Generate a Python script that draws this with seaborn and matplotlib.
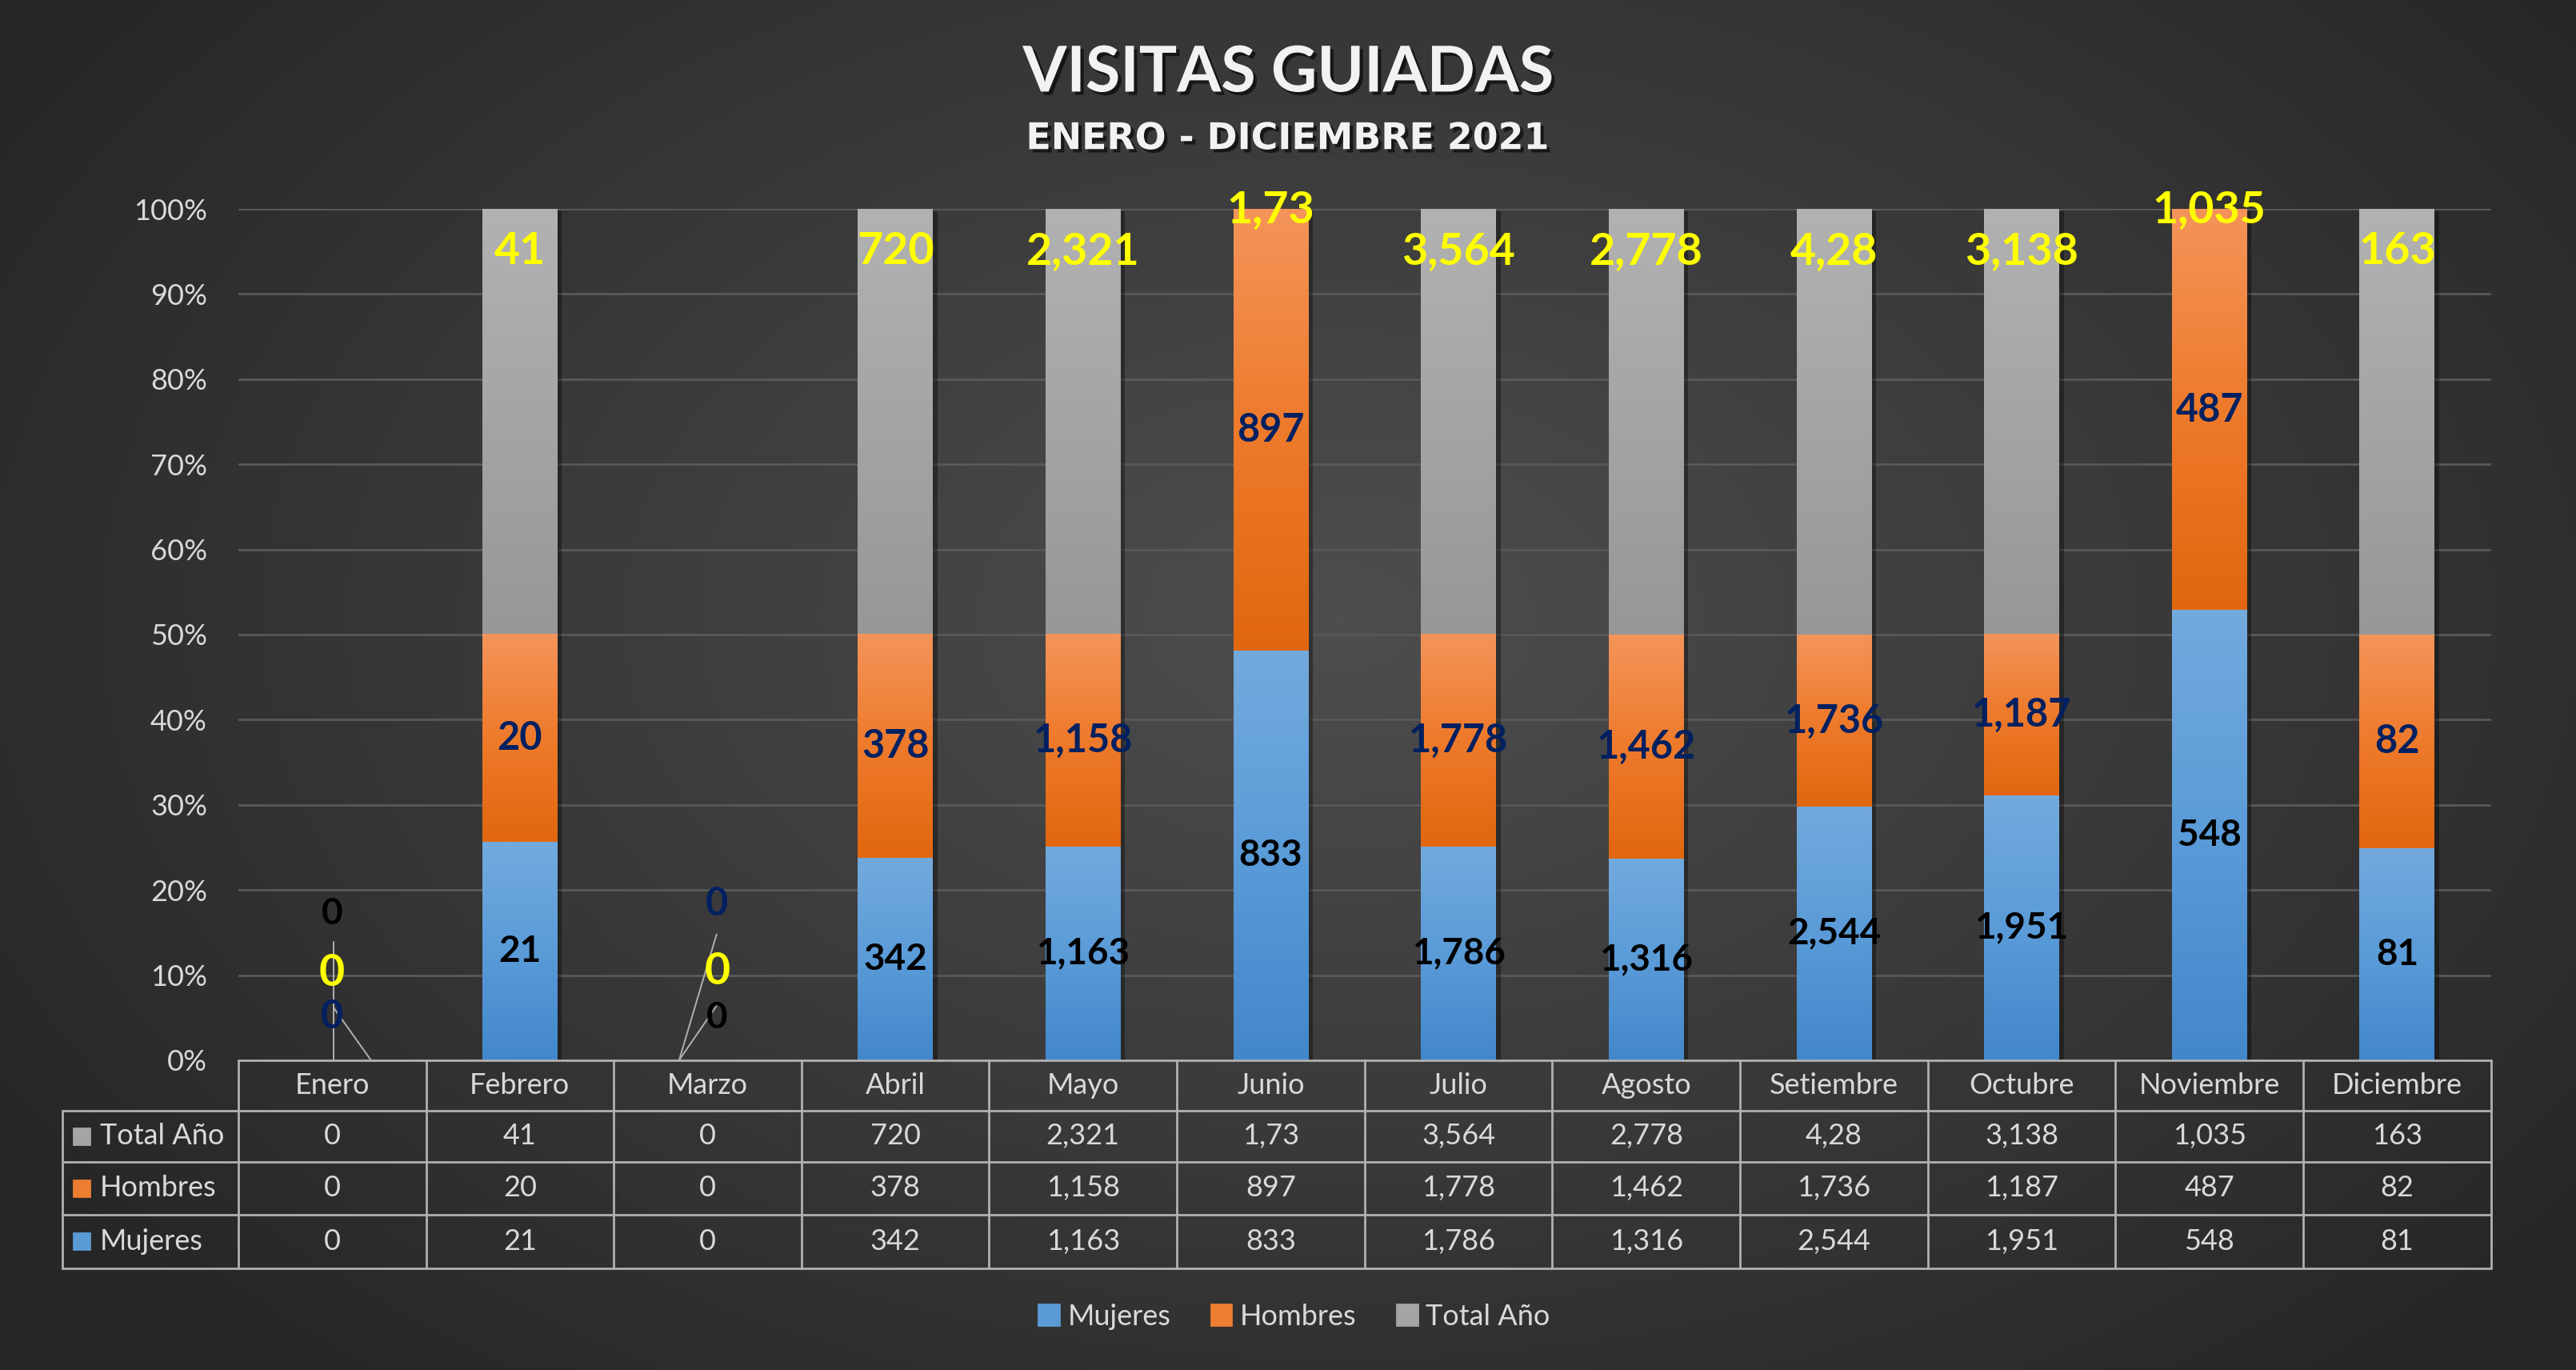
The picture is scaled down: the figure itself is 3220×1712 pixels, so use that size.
import numpy as np
import pandas as pd
import matplotlib
matplotlib.use("Agg")
import matplotlib.pyplot as plt
import matplotlib.patheffects as pe
from matplotlib.patches import Patch, Rectangle
from matplotlib.colors import LinearSegmentedColormap
from matplotlib.transforms import blended_transform_factory
import seaborn as sns

# datos
meses = ["Enero", "Febrero", "Marzo", "Abril", "Mayo", "Junio", "Julio",
         "Agosto", "Setiembre", "Octubre", "Noviembre", "Diciembre"]
mujeres = [0, 21, 0, 342, 1163, 833, 1786, 1316, 2544, 1951, 548, 81]
hombres = [0, 20, 0, 378, 1158, 897, 1778, 1462, 1736, 1187, 487, 82]
total_anio = [0, 41, 0, 720, 2321, 1.73, 3564, 2778, 4280, 3138, 1.035, 163]
total_texto = ["0", "41", "0", "720", "2,321", "1,73", "3,564", "2,778",
               "4,28", "3,138", "1,035", "163"]

azul = "#5b9bd5"
naranja = "#ed7d31"
gris = "#a5a5a5"
txt = "#d9d9d9"
linea = "#b0b0b0"

sns.set_theme(style="dark")
plt.rcParams['font.family'] = ['Lato', 'DejaVu Sans']

df = pd.DataFrame({"Mes": meses, "Mujeres": mujeres, "Hombres": hombres,
                   "Total Año": total_anio})
suma = df[["Mujeres", "Hombres", "Total Año"]].sum(axis=1).replace(0, np.nan)
p_muj = (df["Mujeres"] / suma).fillna(0)
p_hom = ((df["Mujeres"] + df["Hombres"]) / suma).fillna(0)
p_tot = ((df["Mujeres"] + df["Hombres"] + df["Total Año"]) / suma).fillna(0)

fig = plt.figure(figsize=(16.1, 8.56), dpi=200)

# fondo con degradado radial
bg = fig.add_axes([0, 0, 1, 1], zorder=-10)
yy, xx = np.mgrid[0:1:400j, 0:1:700j]
d = np.sqrt(((xx - 0.52) / 0.62) ** 2 + ((yy - 0.45) / 0.75) ** 2)
d = np.clip(d, 0, 1)
fondo = LinearSegmentedColormap.from_list("fondo", ["#4e4e4e", "#262626"])
bg.imshow(d, cmap=fondo, aspect="auto", extent=[0, 1, 0, 1], vmin=0, vmax=1)
bg.set_axis_off()

ax = fig.add_axes([0.0925, 0.2261, 0.8745, 0.6214])
ax.set_facecolor("none")

bkw = dict(width=0.4, saturation=1, edgecolor="none", linewidth=0, ax=ax)
sns.barplot(x=df["Mes"], y=p_tot, color=gris, **bkw)
sns.barplot(x=df["Mes"], y=p_hom, color=naranja, **bkw)
sns.barplot(x=df["Mes"], y=p_muj, color=azul, **bkw)

# degradados por segmento
grads = [
    (LinearSegmentedColormap.from_list("g", ["#b2b2b2", "#979797"]), p_hom),
    (LinearSegmentedColormap.from_list("o", ["#f4945a", "#ee7a2b", "#e0670f"]), p_muj),
    (LinearSegmentedColormap.from_list("b", ["#73aade", "#5a9bd8", "#4387cb"]), np.zeros(12)),
]
n = len(meses)
g = np.linspace(0, 1, 256).reshape(-1, 1)
for k, (cm, inferior) in enumerate(grads):
    for i, p in enumerate(ax.patches[k * n:(k + 1) * n]):
        if k == 0:
            p.set_path_effects([pe.SimplePatchShadow(offset=(2, -1), shadow_rgbFace="black", alpha=0.35),
                                pe.Normal()])
        alto = p.get_height()
        bajo = inferior[i]
        if alto - bajo <= 0:
            continue
        ax.imshow(g, cmap=cm, aspect="auto", zorder=2.5,
                  extent=[p.get_x(), p.get_x() + p.get_width(), bajo, alto])

ax.set_xlim(-0.5, n - 0.5)
ax.set_ylim(0, 1)
ax.set_xlabel("")
ax.set_ylabel("")
ax.tick_params(axis="x", labelbottom=False, length=0)
ax.set_yticks(np.arange(0, 1.01, 0.1))
ax.set_yticklabels([f"{int(round(t * 100))}%" for t in np.arange(0, 1.01, 0.1)])
ax.tick_params(axis="y", length=0, pad=14, labelsize=13, labelcolor=txt)
ax.yaxis.grid(True, color="#595959", lw=1.0)
ax.xaxis.grid(False)
ax.set_axisbelow(True)
for s in ax.spines.values():
    s.set_visible(False)

# etiquetas de datos
kw = dict(ha="center", va="center", weight="bold", zorder=5)
for i in range(n):
    if np.isnan(suma[i]):
        continue
    ax.text(i, p_muj[i] / 2, f"{mujeres[i]:,}", color="black", fontsize=16.5, **kw)
    ax.text(i, (p_muj[i] + p_hom[i]) / 2, f"{hombres[i]:,}", color="#002060", fontsize=17.5, **kw)
    y_t = max((p_hom[i] + p_tot[i]) / 2, p_tot[i] - 0.05)
    ax.text(i, y_t, total_texto[i], color="#ffff00", fontsize=20, **kw)

# meses sin visitas: etiquetas separadas con lineas guia
ceros = {0: (0.172, 0.051, 0.102), 2: (0.05, 0.184, 0.104)}
for i, (ym, yh, yt) in ceros.items():
    xc = i + (0.05 if i == 2 else 0.0)
    ax.text(xc, ym, f"{mujeres[i]:,}", color="black", fontsize=16.5, **kw)
    ax.text(xc, yh, f"{hombres[i]:,}", color="#002060", fontsize=17.5, **kw)
    ax.text(xc, yt, total_texto[i], color="#ffff00", fontsize=20, **kw)
ax.plot([0.007, 0.007], [0.139, 0.0], color=linea, lw=0.7, zorder=4)
ax.plot([0.007, 0.207], [0.062, 0.0], color=linea, lw=0.7, zorder=4)
ax.plot([2.048, 1.848], [0.148, 0.0], color=linea, lw=0.7, zorder=4)
ax.plot([2.048, 1.848], [0.064, 0.0], color=linea, lw=0.7, zorder=4)

# tabla de datos
tr = blended_transform_factory(ax.transData, ax.transAxes)
bordes = [0, -0.0592, -0.1194, -0.1814, -0.2444]
x_izq = -1.437
lkw = dict(color=linea, lw=1.0, transform=tr, clip_on=False, zorder=6)
ax.plot([-0.5, n - 0.5], [0, 0], **lkw)
for yb in bordes[1:]:
    ax.plot([x_izq, n - 0.5], [yb, yb], **lkw)
for j in range(n + 1):
    ax.plot([j - 0.5, j - 0.5], [0, bordes[-1]], **lkw)
ax.plot([x_izq, x_izq], [bordes[1], bordes[-1]], **lkw)

tkw = dict(ha="center", va="center", fontsize=13, color=txt, transform=tr, clip_on=False)
for j, m in enumerate(meses):
    ax.text(j, (bordes[0] + bordes[1]) / 2, m, **tkw)
filas = [("Total Año", total_texto, gris),
         ("Hombres", [f"{v:,}" for v in hombres], naranja),
         ("Mujeres", [f"{v:,}" for v in mujeres], azul)]
for r, (nombre, valores, col) in enumerate(filas):
    yc = (bordes[r + 1] + bordes[r + 2]) / 2
    ax.add_patch(Rectangle((-1.378, yc - 0.0094), 0.085, 0.0188, color=col,
                           transform=tr, clip_on=False, zorder=6))
    ax.text(-1.237, yc, nombre, ha="left", va="center", fontsize=13, color=txt,
            transform=tr, clip_on=False)
    for j, v in enumerate(valores):
        ax.text(j, yc, v, **tkw)

# titulos
sombra = [pe.withSimplePatchShadow(offset=(1.5, -1.5), shadow_rgbFace="black", alpha=0.6)]
fig.text(0.5, 0.946, "VISITAS GUIADAS", ha="center", va="center", fontsize=28.5,
         weight="bold", color="#f2f2f2", path_effects=sombra)
fig.text(0.5, 0.8985, "ENERO - DICIEMBRE 2021", ha="center", va="center", fontsize=16.5,
         weight="bold", color="#f2f2f2", path_effects=sombra,
         family=["DejaVu Sans"])

# leyenda
handles = [Patch(color=azul, label="Mujeres"), Patch(color=naranja, label="Hombres"),
           Patch(color=gris, label="Total Año")]
fig.legend(handles=handles, loc="center", bbox_to_anchor=(0.5025, 1 - 1645 / 1712), ncol=3,
           frameon=False, fontsize=13, labelcolor=txt, handlelength=0.7, handleheight=0.7,
           handletextpad=0.3, columnspacing=1.4)

fig.savefig("out.png", dpi=200)
